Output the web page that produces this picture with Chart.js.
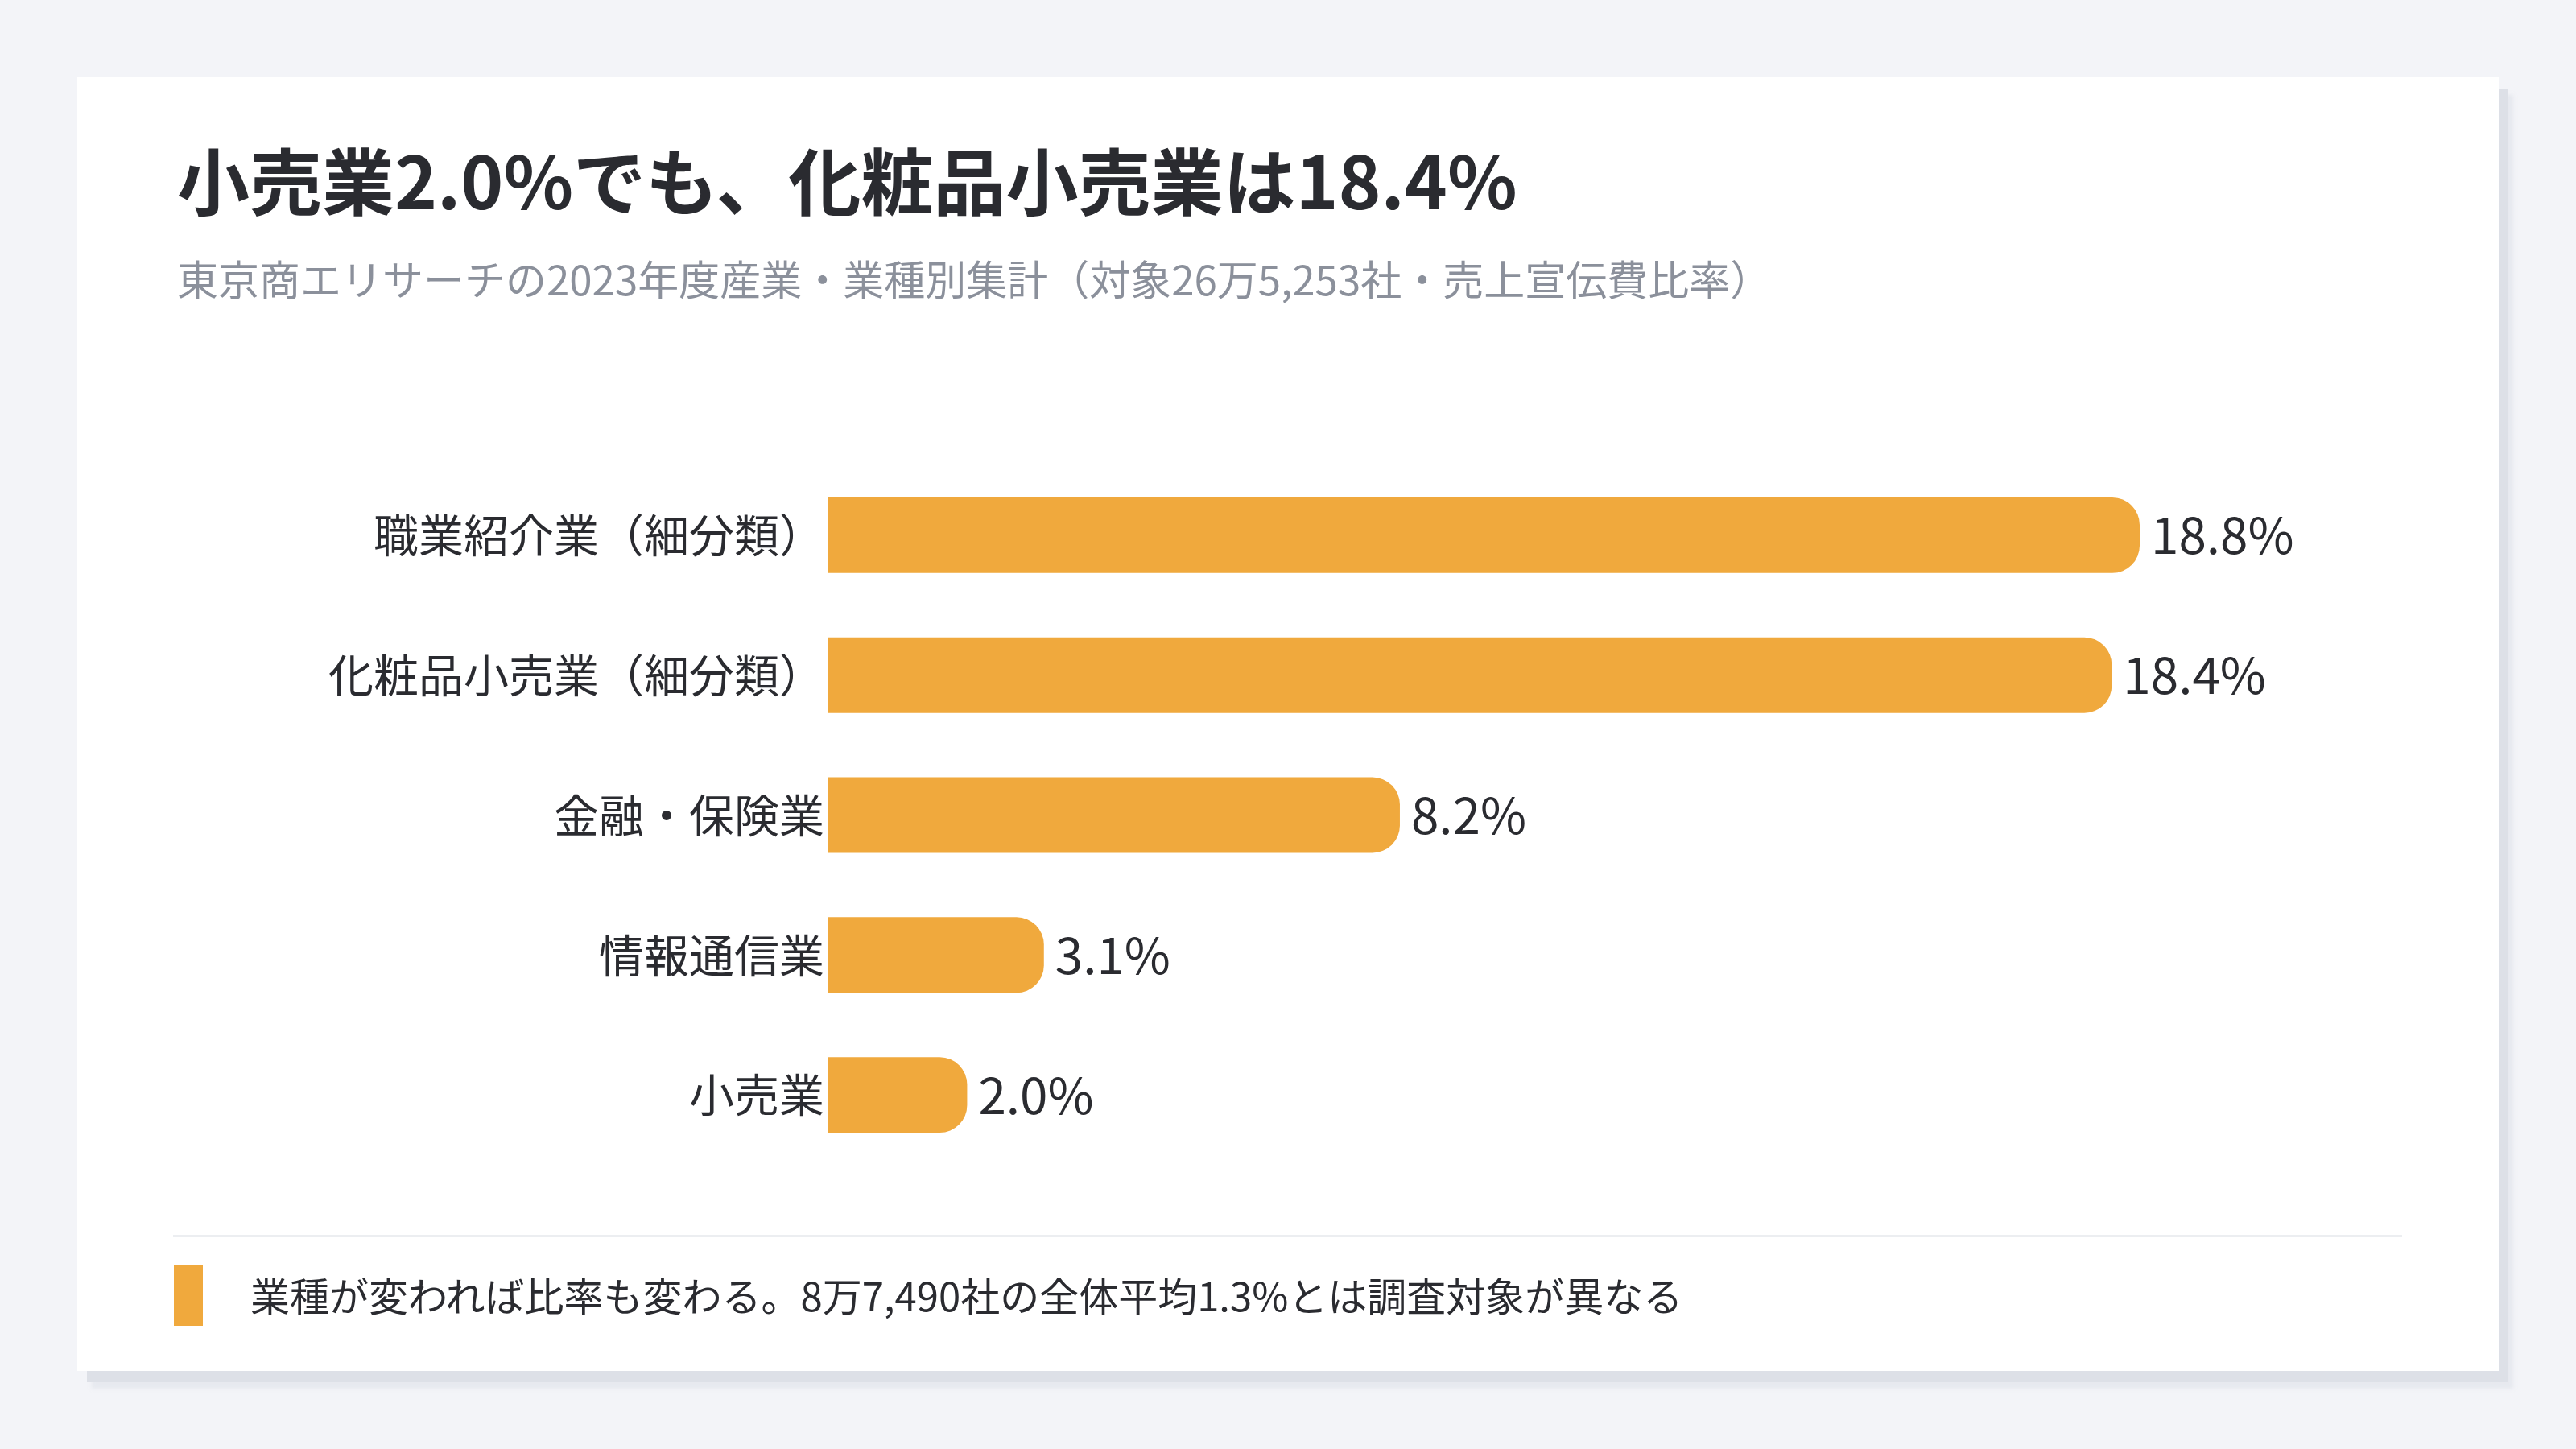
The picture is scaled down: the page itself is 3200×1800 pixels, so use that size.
<!DOCTYPE html>
<html lang="ja">
<head>
<meta charset="utf-8">
<title>売上宣伝費比率</title>
<script src="https://cdn.jsdelivr.net/npm/chart.js@4.4.1/dist/chart.umd.min.js"></script>
<style>
  html, body {
    margin: 0;
    padding: 0;
    width: 3200px;
    height: 1800px;
    background: #f3f4f8;
    font-family: "Noto Sans CJK JP", "Noto Sans", sans-serif;
    overflow: hidden;
  }
  .card {
    position: absolute;
    left: 96px;
    top: 96px;
    width: 3008px;
    height: 1607px;
    background: #ffffff;
    box-shadow: 12px 14px 0 #dde0e7, 18px 22px 4px rgba(221, 224, 231, 0.55);
  }
  .title {
    position: absolute;
    left: 124px;
    top: 80px;
    margin: 0;
    font-size: 90px;
    line-height: 1;
    font-weight: 700;
    color: #2a2b30;
    white-space: nowrap;
  }
  .subtitle {
    position: absolute;
    left: 124px;
    top: 224px;
    margin: 0;
    font-size: 51px;
    line-height: 1;
    color: #8b909b;
    white-space: nowrap;
  }
  .chart-box {
    position: absolute;
    left: 122px;
    top: 482px;
    width: 2766px;
    height: 869px;
  }
  .divider {
    position: absolute;
    left: 119px;
    top: 1438px;
    width: 2769px;
    height: 3px;
    background: #eceef1;
  }
  .swatch {
    position: absolute;
    left: 120px;
    top: 1476px;
    width: 36px;
    height: 75px;
    background: #f0a93d;
  }
  .note {
    position: absolute;
    left: 215px;
    top: 1487px;
    margin: 0;
    font-size: 49px;
    line-height: 1;
    color: #2a2b30;
    white-space: nowrap;
  }
</style>
</head>
<body>
<div class="card">
  <h1 class="title">小売業2.0%でも、化粧品小売業は18.4%</h1>
  <p class="subtitle">東京商エリサーチの2023年度産業・業種別集計（対象26万5,253社・売上宣伝費比率）</p>
  <div class="chart-box"><canvas id="ratio-chart"></canvas></div>
  <div class="divider"></div>
  <div class="swatch"></div>
  <p class="note">業種が変われば比率も変わる。8万7,490社の全体平均1.3%とは調査対象が異なる</p>
</div>
<script>
  const categories = [
    "職業紹介業（細分類）",
    "化粧品小売業（細分類）",
    "金融・保険業",
    "情報通信業",
    "小売業",
  ];
  const ratios = [18.8, 18.4, 8.2, 3.1, 2.0];
  const valueLabels = ["18.8%", "18.4%", "8.2%", "3.1%", "2.0%"];

  const barColor = "#f0a93d";
  const textColor = "#2a2b30";
  const fontFamily = '"Noto Sans CJK JP", "Noto Sans", sans-serif';

  const valueLabelPlugin = {
    id: "valueLabels",
    afterDatasetsDraw(chart) {
      const { ctx } = chart;
      const meta = chart.getDatasetMeta(0);
      ctx.save();
      ctx.font = `400 62px ${fontFamily}`;
      ctx.fillStyle = textColor;
      ctx.textAlign = "left";
      ctx.textBaseline = "middle";
      meta.data.forEach((bar, i) => {
        ctx.fillText(valueLabels[i], bar.x + 14, bar.y);
      });
      ctx.restore();
    },
  };

  const canvas = document.querySelector("#ratio-chart");

  new Chart(canvas, {
    type: "bar",
    data: {
      labels: categories,
      datasets: [
        {
          label: "売上宣伝費比率",
          data: ratios,
          backgroundColor: barColor,
          borderWidth: 0,
          borderRadius: { topLeft: 0, bottomLeft: 0, topRight: 34, bottomRight: 34 },
          borderSkipped: "start",
          barPercentage: 0.54,
          categoryPercentage: 1,
        },
      ],
    },
    options: {
      indexAxis: "y",
      responsive: true,
      maintainAspectRatio: false,
      animation: false,
      layout: { padding: 0 },
      scales: {
        x: {
          display: false,
          min: 0,
          max: Math.max(...ratios) * 1.2,
        },
        y: {
          grid: { display: false, drawTicks: false },
          border: { display: false },
          ticks: {
            color: textColor,
            padding: 4,
            font: { family: fontFamily, size: 56, weight: "400" },
          },
          afterFit: (scale) => {
            // fixed label column, and no extra room above/below the bars
            scale.width = 810;
            scale.paddingTop = 0;
            scale.paddingBottom = 0;
          },
        },
      },
      plugins: {
        legend: { display: false },
        tooltip: { enabled: false },
      },
    },
    plugins: [valueLabelPlugin],
  });
</script>
</body>
</html>
